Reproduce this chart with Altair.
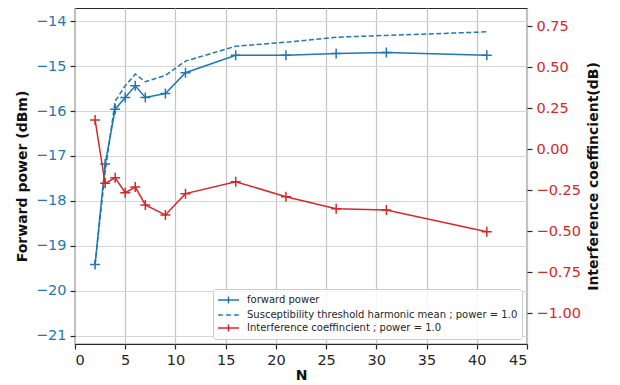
import altair as alt
import pandas as pd

# ---- data ----
N = [2, 3, 4, 5, 6, 7, 9, 11, 16, 21, 26, 31, 41]
forward_power = [-19.41, -17.18, -15.96, -15.70, -15.44, -15.70, -15.61, -15.15,
                 -14.76, -14.76, -14.72, -14.70, -14.76]
threshold_hm = [-19.41, -17.35, -15.78, -15.44, -15.18, -15.35, -15.21, -14.89,
                -14.56, -14.47, -14.36, -14.32, -14.24]
interference = [0.177, -0.209, -0.175, -0.266, -0.232, -0.341, -0.402, -0.272,
                 -0.199, -0.291, -0.364, -0.372, -0.504]

series_names = ["forward power",
                "Susceptibility threshold harmonic mean ; power = 1.0",
                "Interference coeffincient ; power = 1.0"]
x_ticks = [0, 5, 10, 15, 20, 25, 30, 35, 40, 45]
left_ticks = [-21, -20, -19, -18, -17, -16, -15, -14]
right_ticks = [-1.0, -0.75, -0.5, -0.25, 0.0, 0.25, 0.5, 0.75]

BLUE = "#1f77b4"
RED = "#d62728"
FONT = "DejaVu Sans"
PLUS = "M-1,0H1M0,-1V1"
LEG_PLUS = "M-1.75,0H1.75M0,-0.58V0.58"
LEG_DASH = "M-1.72,0H-0.94M-0.39,0H0.39M0.94,0H1.72"

df = pd.DataFrame({"N": N, "fwd": forward_power, "thr": threshold_hm, "ic": interference})
leg_df = pd.DataFrame({"series": series_names})

xenc = alt.X("N:Q", scale=alt.Scale(domain=[0, 45], nice=False),
             axis=alt.Axis(values=x_ticks, title="N", grid=True, gridColor="#c4c4c4",
                           labelColor="#262626", tickColor="#262626", titlePadding=2))

left_axis = alt.Axis(values=left_ticks, title="Forward power (dBm)", grid=True,
                     gridColor="#d6d6d6", labelColor=BLUE, tickColor="#262626",
                     labelExpr="replace(datum.label, '-', '\u2212')")
left_scale = alt.Scale(domain=[-21.18, -13.71], nice=False, zero=False)

base = alt.Chart(df)
fwd_line = base.mark_line(color=BLUE, strokeWidth=1.5).encode(
    x=xenc, y=alt.Y("fwd:Q", scale=left_scale, axis=left_axis))
fwd_pts = base.mark_point(shape=PLUS, color=BLUE, size=100, strokeWidth=1.5,
                          filled=False, opacity=1).encode(
    x="N:Q", y=alt.Y("fwd:Q"))
thr_line = base.mark_line(color=BLUE, strokeWidth=1.5, strokeDash=[5, 2.5]).encode(
    x="N:Q", y=alt.Y("thr:Q"))

legend_layer = alt.Chart(leg_df).transform_filter("false").mark_point(
    filled=False, size=144, strokeWidth=1.5, opacity=1).encode(
    color=alt.Color("series:N", scale=alt.Scale(domain=series_names, range=[BLUE, BLUE, RED]),
                    legend=alt.Legend(title=None, orient="bottom-right", offset=5)),
    shape=alt.Shape("series:N", scale=alt.Scale(domain=series_names,
                                                range=[LEG_PLUS, LEG_DASH, LEG_PLUS]),
                    legend=alt.Legend(title=None, orient="bottom-right", offset=5)),
)

left = alt.layer(fwd_line, thr_line, fwd_pts, legend_layer)

right_axis = alt.Axis(values=right_ticks, title="Interference coeffincient(dB)", grid=False,
                      orient="right", format=".2f", labelColor=RED, tickColor="#262626",
                      titleAngle=270, titleX=66, titleY=168, titleAlign="center",
                      titleBaseline="middle",
                      labelExpr="replace(datum.label, '-', '\u2212')")
right_scale = alt.Scale(domain=[-1.189, 0.860], nice=False, zero=False)
ic_line = base.mark_line(color=RED, strokeWidth=1.5).encode(
    x="N:Q", y=alt.Y("ic:Q", scale=right_scale, axis=right_axis))
ic_pts = base.mark_point(shape=PLUS, color=RED, size=100, strokeWidth=1.5,
                         filled=False, opacity=1).encode(x="N:Q", y="ic:Q")
right = alt.layer(ic_line, ic_pts)

chart = alt.layer(left, right).resolve_scale(y="independent").properties(
    width=452, height=336,
    autosize=alt.AutoSizeParams(type="none"),
    padding={"left": 67, "top": 0, "right": 85, "bottom": 41},
).configure_view(stroke="#262626", strokeWidth=1.2).configure_axis(
    labelFont=FONT, labelFontSize=14.5, titleFont=FONT, titleFontSize=14,
    titleFontWeight="bold", titleColor="#111111", tickSize=5, labelPadding=4,
    titlePadding=6, domain=False, gridWidth=1.2, tickWidth=1.2,
).configure_legend(
    labelFont=FONT, labelFontSize=10, labelColor="#262626", padding=4,
    fillColor="rgba(255,255,255,0.85)", strokeColor="#cccccc", cornerRadius=3,
    rowPadding=1, symbolOffset=4.5, labelOffset=11.5, symbolStrokeWidth=1.5,
    symbolSize=144, labelLimit=400,
)

chart.save("out.html", embed_options={"renderer": "svg", "actions": False})
